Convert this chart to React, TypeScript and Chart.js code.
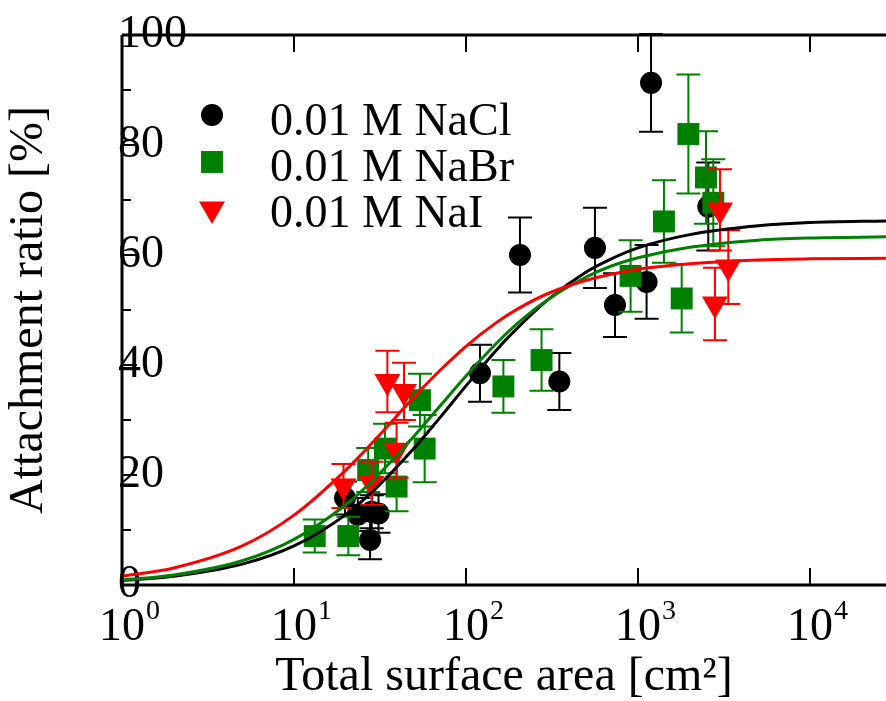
import { useEffect, useRef } from 'react';
import { Chart, registerables } from 'chart.js';

Chart.register(...registerables);

const FONT = "'Liberation Serif', 'Times New Roman', serif";

// Axis definitions
const X_MIN = 1;
const X_MAX = 27670;
const xDecades = [1, 10, 100, 1000, 10000];
const xExponents = ['0', '1', '2', '3', '4'];
const Y_MIN = 0;
const Y_MAX = 100;
const yMajorTicks = [0, 20, 40, 60, 80, 100];
const yMinorTicks = [10, 30, 50, 70, 90];

// Measured data (x: total surface area [cm2], y: attachment ratio [%], err: half error bar)
const naclX = [19.8, 23.5, 28.3, 31.0, 27.7, 120.6, 206, 349, 562, 735, 1122, 1191, 2563];
const naclY = [15.8, 12.8, 13.3, 13.0, 8.2, 38.5, 60.0, 37.0, 61.3, 50.9, 55.1, 91.3, 68.8];
const naclErr = [3.0, 3.0, 3.0, 3.5, 3.5, 5.2, 6.8, 5.2, 7.3, 5.8, 6.7, 8.9, 8.0];

const nabrX = [13.2, 20.7, 27.0, 33.8, 39.5, 54, 57.5, 165, 275, 906, 1416, 1795, 1963, 2485, 2741];
const nabrY = [8.9, 8.9, 20.9, 24.8, 17.9, 33.6, 24.8, 36.1, 40.9, 56.2, 66.1, 52.1, 82.0, 74.1, 69.5];
const nabrErr = [3.0, 3.5, 4.0, 4.5, 4.5, 4.8, 6.1, 4.8, 5.6, 6.5, 7.5, 6.2, 10.8, 8.4, 7.9];

const naiX = [19.4, 28.3, 34.9, 39.5, 43.6, 2803, 2998, 3350];
const naiY = [18.0, 18.5, 37.0, 24.5, 35.2, 51.1, 68.2, 57.8];
const naiErr = [4.0, 3.9, 5.6, 5.0, 5.2, 6.6, 7.4, 6.7];

// Fit curves
const fitX = [1, 2, 5, 10, 20, 30, 50, 70, 100, 150, 200, 300, 500, 700, 1000, 2000, 5000, 10000, 27670];
const naclFit = [0.8, 1.6, 3.8, 7.1, 12.8, 17.6, 24.9, 30.3, 36.2, 42.7, 46.8, 51.9, 56.9, 59.3, 61.3, 63.7, 65.3, 65.9, 66.2];
const nabrFit = [0.9, 1.8, 4.4, 8.3, 14.6, 19.6, 27.1, 32.4, 38.0, 43.9, 47.6, 51.9, 56.0, 58.0, 59.5, 61.4, 62.7, 63.1, 63.3];
const naiFit = [1.6, 3.1, 7.1, 12.7, 20.9, 26.6, 34.2, 38.9, 43.4, 47.7, 50.2, 53.0, 55.4, 56.5, 57.4, 58.4, 59.1, 59.3, 59.4];

const seriesLabels = ['0.01 M NaCl', '0.01 M NaBr', '0.01 M NaI'];
const seriesColors = ['#000000', '#008000', '#ff0000'];

const pts = (xs: number[], ys: number[]) => xs.map((x, i) => ({ x, y: ys[i] }));

function drawMarker(ctx: CanvasRenderingContext2D, style: string, x: number, y: number, r: number, color: string) {
  ctx.save();
  ctx.fillStyle = color;
  ctx.beginPath();
  if (style === 'circle') {
    ctx.arc(x, y, r, 0, Math.PI * 2);
  } else if (style === 'rect') {
    const s = r * Math.SQRT1_2;
    ctx.rect(x - s, y - s, 2 * s, 2 * s);
  } else {
    const w = r * Math.sin(Math.PI / 3);
    ctx.moveTo(x, y + r);
    ctx.lineTo(x - w, y - r / 2);
    ctx.lineTo(x + w, y - r / 2);
    ctx.closePath();
  }
  ctx.fill();
  ctx.restore();
}

const errorBarPlugin = {
  id: 'errorBars',
  beforeDatasetDraw(chart: any, args: any) {
    const ds = chart.data.datasets[args.index];
    if (!ds.errors) return;
    const ctx = chart.ctx;
    const yScale = chart.scales.y;
    ctx.save();
    ctx.strokeStyle = ds.backgroundColor;
    ctx.lineWidth = 2;
    args.meta.data.forEach((el: any, i: number) => {
      const v = ds.data[i].y;
      const e = ds.errors[i];
      const yt = yScale.getPixelForValue(v + e);
      const yb = yScale.getPixelForValue(v - e);
      const x = el.x;
      ctx.beginPath();
      ctx.moveTo(x, yt);
      ctx.lineTo(x, yb);
      ctx.moveTo(x - 12, yt);
      ctx.lineTo(x + 12, yt);
      ctx.moveTo(x - 12, yb);
      ctx.lineTo(x + 12, yb);
      ctx.stroke();
    });
    ctx.restore();
  },
};

const frameAxesPlugin = {
  id: 'frameAxes',
  afterDraw(chart: any) {
    const ctx = chart.ctx;
    const { left, right, top, bottom } = chart.chartArea;
    const xs = chart.scales.x;
    const ys = chart.scales.y;
    ctx.save();
    ctx.strokeStyle = '#000';
    ctx.lineWidth = 3;
    ctx.beginPath();
    ctx.moveTo(left, top);
    ctx.lineTo(right, top);
    ctx.moveTo(left, top);
    ctx.lineTo(left, bottom);
    ctx.moveTo(left, bottom);
    ctx.lineTo(right, bottom);
    ctx.stroke();

    ctx.lineWidth = 2;
    ctx.beginPath();
    xDecades.forEach((v) => {
      const px = xs.getPixelForValue(v);
      ctx.moveTo(px, bottom);
      ctx.lineTo(px, bottom - 17);
      ctx.moveTo(px, top);
      ctx.lineTo(px, top + 17);
    });
    yMajorTicks.forEach((v) => {
      const py = ys.getPixelForValue(v);
      ctx.moveTo(left, py);
      ctx.lineTo(left + 15, py);
    });
    yMinorTicks.forEach((v) => {
      const py = ys.getPixelForValue(v);
      ctx.moveTo(left, py);
      ctx.lineTo(left + 9, py);
    });
    ctx.stroke();

    // x tick labels: 10 with superscript exponent
    ctx.fillStyle = '#000';
    ctx.textBaseline = 'alphabetic';
    xDecades.forEach((v, i) => {
      const px = xs.getPixelForValue(v);
      ctx.font = `46px ${FONT}`;
      ctx.textAlign = 'center';
      const w = ctx.measureText('10').width;
      ctx.fillText('10', px, bottom + 55);
      ctx.font = `28px ${FONT}`;
      ctx.textAlign = 'left';
      ctx.fillText(xExponents[i], px + w / 2 + 1, bottom + 34);
    });

    // legend
    const legendRowsY = [115, 162, 209];
    const legendTextY = [135, 181, 227];
    chart.data.datasets.forEach((ds: any) => {
      if (ds.legendRow === undefined) return;
      const r = ds.legendRow;
      drawMarker(ctx, ds.pointStyle, left + 90, legendRowsY[r], ds.legendRadius, ds.backgroundColor);
      ctx.font = `46px ${FONT}`;
      ctx.textAlign = 'left';
      ctx.fillStyle = '#000';
      ctx.fillText(ds.label, left + 148, legendTextY[r]);
    });
    ctx.restore();
  },
};

export default function App() {
  const canvasRef = useRef<HTMLCanvasElement | null>(null);

  useEffect(() => {
    const canvas = canvasRef.current;
    if (!canvas) return;
    const fitStyle = (color: string) => ({
      showLine: true,
      pointRadius: 0,
      borderColor: color,
      backgroundColor: color,
      borderWidth: 3,
      cubicInterpolationMode: 'monotone',
      fill: false,
    });
    const chart = new Chart(canvas, {
      type: 'scatter',
      data: {
        datasets: [
          { label: 'fit NaI', data: pts(fitX, naiFit), order: 0, ...fitStyle(seriesColors[2]) },
          { label: 'fit NaBr', data: pts(fitX, nabrFit), order: 0, ...fitStyle(seriesColors[1]) },
          { label: 'fit NaCl', data: pts(fitX, naclFit), order: 0, ...fitStyle(seriesColors[0]) },
          {
            label: seriesLabels[2], data: pts(naiX, naiY), errors: naiErr, order: 1,
            pointStyle: 'triangle', rotation: 180, pointRadius: 15, pointBorderWidth: 0,
            backgroundColor: seriesColors[2], borderColor: seriesColors[2], showLine: false,
            legendRow: 2, legendRadius: 15,
          },
          {
            label: seriesLabels[1], data: pts(nabrX, nabrY), errors: nabrErr, order: 2,
            pointStyle: 'rect', pointRadius: 15.5, pointBorderWidth: 0,
            backgroundColor: seriesColors[1], borderColor: seriesColors[1], showLine: false,
            legendRow: 1, legendRadius: 15.5,
          },
          {
            label: seriesLabels[0], data: pts(naclX, naclY), errors: naclErr, order: 3,
            pointStyle: 'circle', pointRadius: 11, pointBorderWidth: 0,
            backgroundColor: seriesColors[0], borderColor: seriesColors[0], showLine: false,
            legendRow: 0, legendRadius: 11,
          },
        ] as any,
      },
      options: {
        animation: false,
        responsive: false,
        events: [],
        layout: { autoPadding: false, padding: { left: 0, right: 0, top: 35, bottom: 0 } },
        plugins: { legend: { display: false }, tooltip: { enabled: false } },
        scales: {
          x: {
            type: 'logarithmic',
            min: X_MIN,
            max: X_MAX,
            grid: { display: false, drawTicks: false },
            border: { display: false },
            ticks: { display: false },
            afterBuildTicks: (s: any) => {
              s.ticks = xDecades.map((v) => ({ value: v }));
            },
            title: {
              display: true,
              text: 'Total surface area [cm²]',
              color: '#000',
              font: { family: FONT, size: 48, lineHeight: 1 },
              padding: { top: 68, bottom: 0 },
            },
          },
          y: {
            type: 'linear',
            min: Y_MIN,
            max: Y_MAX,
            grid: { display: false, drawTicks: false },
            border: { display: false },
            ticks: {
              stepSize: 20,
              mirror: true,
              padding: -4,
              color: '#000',
              font: { family: FONT, size: 46 },
            },
            title: {
              display: true,
              text: 'Attachment ratio [%]',
              color: '#000',
              font: { family: FONT, size: 48, lineHeight: 1 },
              padding: { top: 5, bottom: 77 },
            },
          },
        },
      } as any,
      plugins: [errorBarPlugin, frameAxesPlugin],
    });
    return () => chart.destroy();
  }, []);

  return (
    <div style={{ position: 'fixed', left: 0, top: 0, width: 886, height: 701, background: '#fff' }}>
      <canvas ref={canvasRef} width={886} height={701} />
    </div>
  );
}
